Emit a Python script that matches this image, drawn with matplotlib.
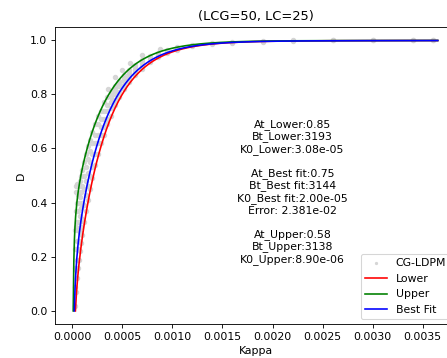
import matplotlib
matplotlib.use('Agg')
import matplotlib.pyplot as plt
import numpy as np

# CG-LDPM damage samples: Kappa (in units of 1e-4) and damage D
kappa_e4 = [
    0.3, 0.3, 0.3, 0.3, 0.3, 0.35,
    0.4, 0.4, 0.4, 0.4, 0.4, 0.4, 0.45,
    0.5, 0.5, 0.5, 0.5, 0.5,
    0.6, 0.6, 0.6, 0.6, 0.6,
    0.7, 0.7, 0.7, 0.7, 0.7,
    0.8, 0.8, 0.8, 0.8, 0.8,
    0.9, 0.9, 0.9, 0.9, 0.9,
    1.0, 1.0, 1.0, 1.0, 1.0,
    1.2, 1.2, 1.2, 1.2, 1.2,
    1.4, 1.4, 1.4, 1.4, 1.4,
    1.6, 1.6, 1.6, 1.6, 1.6,
    1.8, 1.8, 1.8, 1.8, 1.8,
    2.0, 2.0, 2.0, 2.0, 2.0,
    2.3, 2.3, 2.3, 2.3, 2.3,
    2.6, 2.6, 2.6, 2.6, 2.6,
    2.9, 2.9, 2.9, 2.9, 2.9,
    3.2, 3.2, 3.2, 3.2, 3.2,
    3.5, 3.5, 3.5, 3.5, 3.5, 3.6,
    3.9, 3.9, 3.9, 3.9, 3.9,
    4.3, 4.3, 4.3, 4.3, 4.3, 4.3,
    4.7, 4.7, 4.7, 4.7, 4.7,
    5.0,
    5.2, 5.2, 5.2, 5.2, 5.2,
    5.7, 5.7, 5.7, 5.7, 5.7, 5.8,
    6.3, 6.3, 6.3, 6.3, 6.3,
    7.0, 7.0, 7.0, 7.0, 7.0,
    7.8, 7.8, 7.8,
    8.6, 8.6, 8.6, 8.8,
    9.5, 9.5, 9.5,
    10.5, 10.5, 10.5,
    12, 12,
    14, 14,
    16, 16,
    19, 19,
    22, 22,
    26, 26,
    30, 30,
    34, 34,
    36, 36,
]
d_ldpm = [
    0.02, 0.09, 0.16, 0.23, 0.30, 0.46,
    0.07, 0.15, 0.23, 0.31, 0.37, 0.44, 0.47,
    0.12, 0.19, 0.26, 0.33, 0.40,
    0.16, 0.23, 0.30, 0.37, 0.43,
    0.19, 0.26, 0.33, 0.40, 0.46,
    0.22, 0.29, 0.35, 0.42, 0.48,
    0.25, 0.31, 0.38, 0.44, 0.50,
    0.28, 0.34, 0.40, 0.46, 0.52,
    0.33, 0.39, 0.45, 0.50, 0.55,
    0.37, 0.43, 0.48, 0.53, 0.58,
    0.41, 0.46, 0.51, 0.56, 0.61,
    0.45, 0.50, 0.55, 0.59, 0.63,
    0.49, 0.53, 0.58, 0.62, 0.66,
    0.54, 0.58, 0.62, 0.65, 0.69,
    0.58, 0.62, 0.65, 0.69, 0.72,
    0.62, 0.65, 0.68, 0.71, 0.74,
    0.65, 0.68, 0.71, 0.74, 0.77,
    0.69, 0.71, 0.74, 0.76, 0.79, 0.82,
    0.72, 0.75, 0.77, 0.79, 0.81,
    0.76, 0.78, 0.80, 0.82, 0.83, 0.863,
    0.79, 0.81, 0.83, 0.84, 0.85,
    0.89,
    0.82, 0.835, 0.85, 0.86, 0.87,
    0.845, 0.86, 0.87, 0.88, 0.89, 0.915,
    0.87, 0.88, 0.89, 0.90, 0.91,
    0.895, 0.905, 0.915, 0.925, 0.945,
    0.92, 0.93, 0.94,
    0.937, 0.945, 0.953, 0.967,
    0.953, 0.959, 0.965,
    0.965, 0.970, 0.975,
    0.978, 0.982,
    0.987, 0.990,
    0.991, 0.993,
    0.995, 0.997,
    0.997, 0.999,
    0.999, 1.0,
    0.999, 1.0,
    0.999, 1.0,
    0.999, 1.0,
]

# fitted parameters (At, Bt, K0)
fit_names = ['Lower', 'Upper', 'Best Fit']
fit_colors = ['red', 'green', 'blue']
At = [0.85, 0.58, 0.75]
Bt = [3193, 3138, 3144]
K0 = [3.08e-05, 8.90e-06, 2.00e-05]
fit_error = 2.381e-02
kappa_max = 0.00365


def damage(k, at, bt, k0):
    return 1.0 - k0 * (1.0 - at) / k - at * np.exp(-bt * (k - k0))


DPI = 78
fig = plt.figure(figsize=(447 / DPI, 358 / DPI), dpi=DPI)
ax = fig.add_axes([0.123, 0.0936, 0.897, 0.832])

kappa = np.array(kappa_e4) * 1e-4
ax.plot(kappa, d_ldpm, '.', color='lightgray', markersize=8, alpha=0.9,
        label='CG-LDPM')

for name, col, at, bt, k0 in zip(fit_names, fit_colors, At, Bt, K0):
    k = np.linspace(k0, kappa_max, 600)
    ax.plot(k, damage(k, at, bt, k0), color=col, label=name)

info = (f"At_Lower:{At[0]:.2f}\nBt_Lower:{Bt[0]}\nK0_Lower:{K0[0]:.2e}\n\n"
        f"At_Best fit:{At[2]:.2f}\nBt_Best fit:{Bt[2]}\nK0_Best fit:{K0[2]:.2e}\n"
        f"Error: {fit_error:.3e}\n\n"
        f"At_Upper:{At[1]:.2f}\nBt_Upper:{Bt[1]}\nK0_Upper:{K0[1]:.2e}")
ax.text(0.0022, 0.44, info, ha='center', va='center', fontsize=10)

ax.set_xlabel('Kappa')
ax.set_ylabel('D')
ax.set_title('(LCG=50, LC=25)')
ax.legend(loc='lower right', markerscale=0.5)

fig.savefig('out.png', dpi=DPI)
